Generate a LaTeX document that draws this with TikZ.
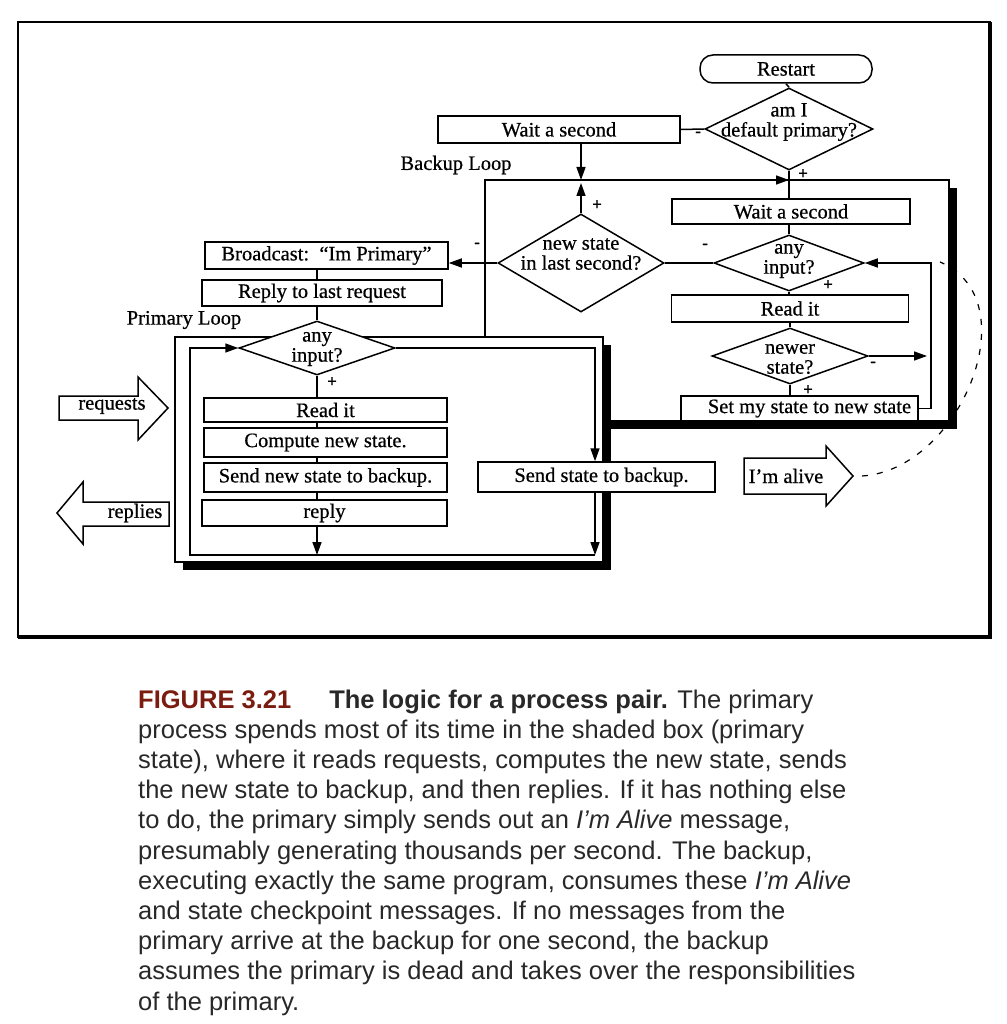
\documentclass[tikz,border=0pt]{standalone}
\usepackage{fontspec}
\usetikzlibrary{shapes.geometric,arrows.meta}
\newfontfamily\serifd[FakeBold=0.6]{Liberation Serif}
\newfontfamily\capsans{Liberation Sans}
\definecolor{figred}{RGB}{122,28,16}
\definecolor{captxt}{RGB}{40,40,40}
\newcommand\dgfont{\serifd\fontsize{20.5}{20}\selectfont}
\newcommand\sgfont{\serifd\bfseries\fontsize{17}{17}\selectfont}
\newcommand\cpfont{\capsans\fontsize{25.5}{30.2}\selectfont}
\tikzset{
  conn/.style={line width=1.5pt},
  arr/.style={line width=1.5pt,-{Triangle[length=13pt,width=9pt]}},
  boxn/.style={draw,fill=white,line width=1.5pt,inner sep=0pt,font=\dgfont},
  dia/.style={draw,fill=white,shape=diamond,inner sep=0pt,line width=1.5pt},
  lbl/.style={font=\dgfont,inner sep=0pt,align=center},
  sgn/.style={font=\sgfont,inner sep=0pt},
  bigarrow/.style={draw,fill=white,line width=1.5pt,line join=miter},
  capline/.style={font=\cpfont,text=captxt,anchor=base west,inner sep=0pt},
  shad/.style={fill=black},
  loopbox/.style={draw,fill=white,line width=1.5pt}
}
\begin{document}
\begin{tikzpicture}[x=1pt,y=-1pt]
\useasboundingbox (0,0) rectangle (1006,1024);
% outer frame
\draw[line width=2.2pt] (18,22) rectangle (990,637);
\draw[line width=3.5pt] (18,637) -- (990,637) -- (990,22);
% backup loop box with shadow
\fill[shad] (493,188) rectangle (957,429);
\draw[loopbox] (485,180) rectangle (949,421);
% primary loop box with shadow
\fill[shad] (183,345) rectangle (611,570);
\draw[loopbox] (175,337) rectangle (603,562);

% loop labels
\node[lbl] (bll) at (456,165) {Backup Loop};
\node[lbl] (pll) at (184,320) {Primary Loop};

% backup column
\node[boxn,rounded corners=13pt,minimum width=172pt,minimum height=28pt] (rs) at (786,69) {Restart};
\node[dia,minimum width=168pt,minimum height=82pt] (amI) at (789,129) {};
\node[lbl] (amIt) at (789,122) {am I\\default primary?};
\node[boxn,minimum width=242pt,minimum height=27pt] (w1) at (559,129.5) {Wait a second};
\node[boxn,minimum width=238pt,minimum height=25pt] (w2) at (791,211.5) {Wait a second};
\node[dia,minimum width=166pt,minimum height=98pt] (nsd) at (581,263) {};
\node[lbl] (nsdt) at (581,254) {new state\\in last second?};
\node[dia,minimum width=150pt,minimum height=56pt] (bin) at (789,263) {};
\node[lbl] (bint) at (789,261) {any\\input?};
\node[boxn,minimum width=237pt,minimum height=27pt] (rd2) at (790,308.5) {Read it};
\node[dia,minimum width=156pt,minimum height=56pt] (nw) at (790,356) {};
\node[lbl] (nwt) at (790,359) {newer\\state?};
\node[boxn,minimum width=237pt,minimum height=25pt] (sms) at (799.5,408.5) {\hspace*{20pt}Set my state to new state};

% primary column
\node[boxn,minimum width=243pt,minimum height=27pt] (bc) at (326.5,255.5) {Broadcast:\ \ “Im Primary”};
\node[boxn,minimum width=240pt,minimum height=26pt] (rl) at (322,293) {Reply to last request};
\node[dia,minimum width=156pt,minimum height=54pt] (pd) at (317,348) {};
\node[lbl] (pdt) at (317,349) {any\\input?};
\node[boxn,minimum width=243pt,minimum height=24pt] (ri) at (325.5,410) {Read it};
\node[boxn,minimum width=243pt,minimum height=29pt] (cn) at (325.5,442.5) {Compute new state.};
\node[boxn,minimum width=243pt,minimum height=29pt] (sn) at (325.5,477.5) {Send new state to backup.};
\node[boxn,minimum width=245pt,minimum height=26pt] (rp) at (324.5,513) {reply};
\node[boxn,minimum width=237pt,minimum height=30pt] (ssb) at (596.5,477) {\hspace*{10pt}Send state to backup.};

% coordinates
\coordinate (tl) at (581,180);
\coordinate (tlu) at (581,183);
\coordinate (tr) at (789,180);
\coordinate (nwend) at (927,356);
\coordinate (lp) at (931,263);
\coordinate (ilr) at (595,555);
\coordinate (ill) at (190,555);

% backup connectors
\draw[conn] (amI.north) -- (rs.south);
\draw[conn] (amI.west) -- (w1.east);
\draw[arr] (w1.south -| tl) -- (tl);
\draw[arr] (nsd.north) -- (tlu);
\draw[arr] (tl) -- (tr);
\draw[conn] (amI.south) -- (w2.north -| amI.south);
\draw[conn] (w2.south -| bin.north) -- (bin.north);
\draw[conn] (bin.west) -- (nsd.east);
\draw[arr] (nsd.west) -- (nsd.west -| bc.east);
\draw[conn] (bin.south) -- (rd2.north -| bin.south);
\draw[conn] (rd2.south -| nw.north) -- (nw.north);
\draw[conn] (nw.south) -- (nw.south |- sms.north);
\draw[arr] (nw.east) -- (nwend);
\draw[arr] (sms.east) -| (lp) -- (bin.east);

% primary connectors
\draw[conn] (bc.south -| pd.north) -- (rl.north -| pd.north);
\draw[conn] (rl.south -| pd.north) -- (pd.north);
\draw[conn] (pd.south) -- (pd.south |- ri.north);
\draw[conn] (ri.south -| pd.south) -- (cn.north -| pd.south);
\draw[conn] (cn.south -| pd.south) -- (sn.north -| pd.south);
\draw[conn] (sn.south -| pd.south) -- (rp.north -| pd.south);
\draw[arr] (rp.south -| pd.south) -- (pd.south |- ilr);
\draw[arr] (pd.east) -| (ssb.north -| ilr);
\draw[arr] (ssb.south -| ilr) -- (ilr);
\draw[arr] (ilr) -- (ill) |- (pd.west);

% signs
\node[sgn] (p1) at (803,174) {+};
\node[sgn] (p2) at (597,205) {+};
\node[sgn] (p3) at (828,285) {+};
\node[sgn] (p4) at (808,390) {+};
\node[sgn] (p5) at (332,382) {+};
\node[sgn] (m1) at (698,134) {-};
\node[sgn] (m2) at (477,245) {-};
\node[sgn] (m3) at (705,246) {-};
\node[sgn] (m4) at (873,364) {-};

% big arrows
\draw[bigarrow] (59,396) -- (138,396) -- (138,377) -- (168,408) -- (138,440) -- (138,420) -- (59,420) -- cycle;
\node[lbl] (rqt) at (112,406) {requests};
\draw[bigarrow] (169,502) -- (83,502) -- (83,482) -- (57,513) -- (83,544) -- (83,526) -- (169,526) -- cycle;
\node[lbl] (rpt) at (135,513) {replies};
\draw[bigarrow] (744,458) -- (826,458) -- (826,446) -- (853,476) -- (826,506) -- (826,494) -- (744,494) -- cycle;
\node[lbl] (iat) at (786,476) {I’m alive};
\coordinate (ima) at (862,476);
\coordinate (dend) at (940,262);
\draw[line width=1.2pt,dash pattern=on 6pt off 9pt] (ima) .. controls (960,470) and (1030,300) .. (dend);

% caption
\node[capline] (c1) at (138,708) {{\bfseries\color{figred}FIGURE 3.21}\hspace{38pt}{\bfseries The logic for a process pair.} The primary};
\node[capline] (c2) at (138,738.2) {process spends most of its time in the shaded box (primary};
\node[capline] (c3) at (138,768.4) {state), where it reads requests, computes the new state, sends};
\node[capline] (c4) at (138,798.6) {the new state to backup, and then replies. If it has nothing else};
\node[capline] (c5) at (138,828.8) {to do, the primary simply sends out an \textit{I’m Alive} message,};
\node[capline] (c6) at (138,859) {presumably generating thousands per second. The backup,};
\node[capline] (c7) at (138,889.2) {executing exactly the same program, consumes these \textit{I’m Alive}};
\node[capline] (c8) at (138,919.4) {and state checkpoint messages. If no messages from the};
\node[capline] (c9) at (138,949.6) {primary arrive at the backup for one second, the backup};
\node[capline] (c10) at (138,979.8) {assumes the primary is dead and takes over the responsibilities};
\node[capline] (c11) at (138,1010) {of the primary.};
\end{tikzpicture}
\end{document}
